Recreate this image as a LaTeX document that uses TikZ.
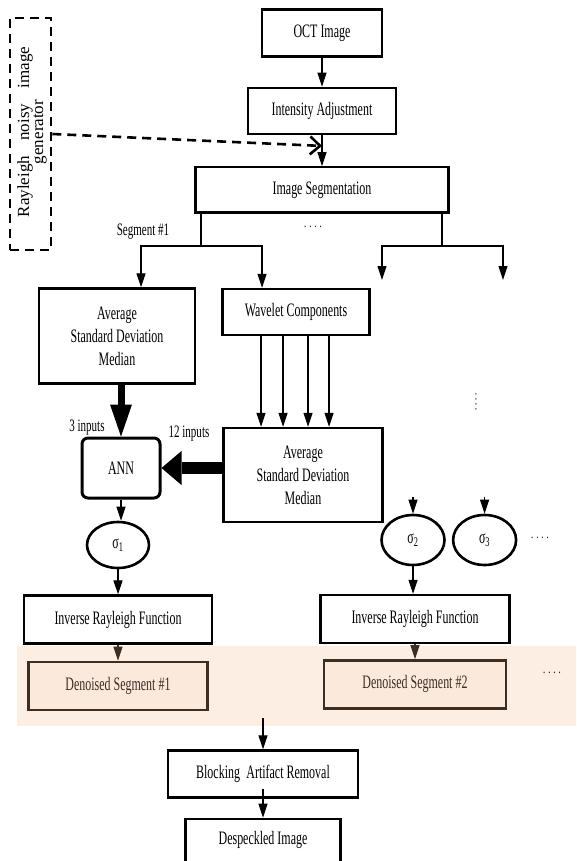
\documentclass[tikz,border=0pt]{standalone}
\usepackage{fontspec}
\setmainfont[FakeStretch=0.63]{Liberation Serif}
\newfontfamily\genfont{Liberation Serif}
\usetikzlibrary{shapes.geometric,arrows.meta,positioning,calc}
\definecolor{bandpeach}{HTML}{FCEEE2}
\definecolor{denfill}{HTML}{FBEADC}
\definecolor{denbrown}{HTML}{3E2E22}
\tikzset{
  block/.style={rectangle, draw=black, line width=2.4pt, fill=white, align=center, inner sep=2pt, font=\fontsize{19}{23}\selectfont},
  annbox/.style={block, rounded corners=6pt, line width=3pt},
  sigma/.style={ellipse, draw=black, line width=2.6pt, fill=white, inner sep=0pt, font=\fontsize{19}{20}\selectfont},
  denoised/.style={block, draw=denbrown, fill=denfill, text=denbrown},
  genbox/.style={rectangle, draw=black, line width=2.6pt, dash pattern=on 9pt off 6pt, minimum width=41pt, minimum height=232pt, inner sep=0pt},
  flow/.style={-{Triangle[length=14pt,width=9pt]}, line width=1.1pt},
  twoflow/.style={{Triangle[length=14pt,width=9pt]}-{Triangle[length=14pt,width=9pt]}, line width=1.1pt},
  fatdown/.style={-{Triangle[length=32pt,width=22pt,line width=0pt]}, line width=7pt},
  fatleft/.style={-{Triangle[length=20pt,width=34pt,line width=0pt]}, line width=12pt},
  dashflow/.style={-{Straight Barb[length=10pt,width=18pt]}, line width=2.6pt, dash pattern=on 9pt off 6pt},
  lbl/.style={font=\fontsize{17.5}{18}\selectfont, inner sep=0pt},
  dotsl/.style={font=\fontsize{14}{14}\selectfont, inner sep=0pt},
}

\begin{document}
\begin{tikzpicture}[x=1pt, y=-1pt, node distance=16pt]
  \useasboundingbox (0,0) rectangle (576,861);
  % shaded band behind the denoised segments
  \fill[bandpeach] (17,646) rectangle (576,726);

  \node[block, minimum width=120pt, minimum height=47pt] (oct) at (322,33) {OCT Image};
  \node[block, minimum width=148pt, minimum height=46pt, below=29pt of oct] (int) {Intensity Adjustment};
  \node[block, minimum width=253pt, minimum height=45pt, below=31pt of int] (seg) {Image Segmentation};
  \node[genbox] (gen) at (30.5,134) {};
  \node[rotate=90, align=center, inner sep=0pt, font=\genfont\fontsize{17}{14}\selectfont] (gentext) at (32,132) {Rayleigh\hspace{0.9em}noisy\hspace{0.9em}image\\generator};

  \node[block, minimum width=156pt, minimum height=95pt] (stats1) at (117,336) {Average\\Standard Deviation\\Median};
  \node[block, minimum width=147pt, minimum height=46pt] (wave) at (296,312) {Wavelet Components};
  \node[block, minimum width=159pt, minimum height=94pt] (stats2) at (303,475) {Average\\Standard Deviation\\Median};
  \node[annbox, minimum width=78pt, minimum height=60pt] (ann) at (121,468) {ANN};
  \node[sigma, minimum width=62pt, minimum height=46pt] (sig1) at (118,545) {σ\textsubscript{1}};
  \node[sigma, minimum width=63pt, minimum height=50pt] (sig2) at (413,540) {σ\textsubscript{2}};
  \node[sigma, minimum width=63pt, minimum height=50pt, right=6pt of sig2] (sig3) {σ\textsubscript{3}};
  \node[block, minimum width=188pt, minimum height=48pt, below=25pt of sig1] (inv1) {Inverse Rayleigh Function};
  \node[block, minimum width=189pt, minimum height=48pt] (inv2) at (415,619) {Inverse Rayleigh Function};
  \node[denoised, minimum width=179pt, minimum height=48pt, below=16pt of inv1] (den1) {Denoised Segment \#1};
  \node[denoised, minimum width=182pt, minimum height=48pt, below=15pt of inv2] (den2) {Denoised Segment \#2};
  \node[block, minimum width=190pt, minimum height=47pt] (blk) at (263,774) {Blocking\,\,Artifact Removal};
  \node[block, minimum width=155pt, minimum height=43pt, below=19pt of blk] (desp) {Despeckled Image};

  \node[lbl] (seglbl) at (143,232) {Segment \#1};
  \node[lbl] (in3) at (87,428) {3 inputs};
  \node[lbl] (in12) at (189,434) {12 inputs};
  \node[dotsl] (dotsa) at (313,227) {. . . .};
  \node[dotsl, rotate=90] (dotsb) at (476,402) {. . . .};
  \node[dotsl] (dotsc) at (540,538) {. . . .};
  \node[dotsl] (dotsd) at (552,673) {. . . .};

  \coordinate (s1) at (201,246);
  \coordinate (s2) at (442,246);
  \coordinate (r1) at (382,280);
  \coordinate (r2) at (503,280);
  \coordinate (merge) at ($(int.south)!0.35!(seg.north)$);
  \coordinate (join) at ([yshift=31pt]blk.north);

  \draw[flow] (oct) -- (int);
  \draw[flow] (int) -- (seg);
  \draw[dashflow] (gen.east) -- (merge);
  \draw[line width=1.1pt] (seg.south -| s1) -- (s1);
  \draw[twoflow] ([xshift=24pt]stats1.north) |- (s1) -| ([xshift=-34pt]wave.north);
  \draw[line width=1.1pt] (seg.south -| s2) -- (s2);
  \draw[twoflow] (r1) |- (s2) -| (r2);
  \foreach \dx in {-35,-13,12,33}
    \draw[flow] ([xshift=\dx pt]wave.south) -- ([xshift=\dx pt]wave.south |- stats2.north);
  \draw[fatdown] (stats1.south -| ann) -- (ann.north);
  \draw[fatleft] (stats2.west |- ann) -- (ann.east);
  \draw[flow] (ann.south) -- (ann.south |- sig1.north);
  \draw[flow] ([yshift=17pt]sig2.north) -- (sig2.north);
  \draw[flow] ([yshift=17pt]sig3.north) -- (sig3.north);
  \draw[flow] (sig1) -- (inv1);
  \draw[flow] (sig2.south) -- (sig2.south |- inv2.north);
  \draw[flow, draw=denbrown, fill=denbrown] (inv1) -- (den1);
  \draw[flow, draw=denbrown, fill=denbrown] (inv2) -- (den2);
  \draw[flow] (join) -- (blk.north);
  \draw[flow] ([yshift=10pt]blk.south) -- (desp.north);
\end{tikzpicture}
\end{document}
